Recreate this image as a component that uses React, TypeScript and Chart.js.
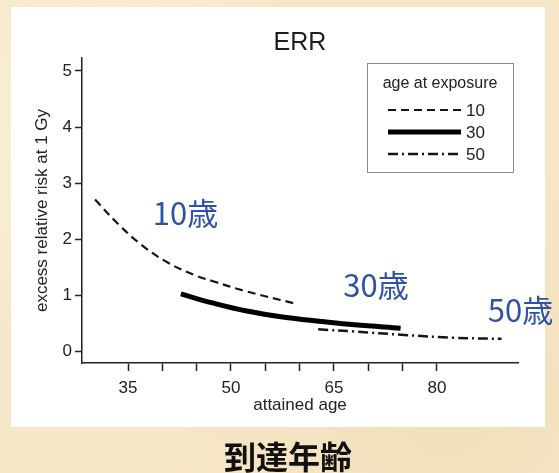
import { useEffect, useRef } from "react";
import { Chart, registerables } from "chart.js";

Chart.register(...registerables);

// ---- data ----
const ages10 = [30.2, 33.6, 37.0, 40.9, 44.8, 47.4, 52.1, 59.6];
const err10 = [2.71, 2.27, 1.9, 1.58, 1.36, 1.255, 1.08, 0.85];
const ages30 = [42.7, 47.3, 52.1, 57.5, 63.2, 68.0, 74.7];
const err30 = [1.03, 0.87, 0.73, 0.62, 0.54, 0.48, 0.42];
const ages50 = [62.7, 68.0, 75.2, 82.4, 89.4];
const err50 = [0.4, 0.36, 0.3, 0.25, 0.23];

const seriesLabels = ["10", "30", "50"];
const xTicks = [35, 40, 45, 50, 55, 60, 65, 70, 75, 80];
const xLabels = [35, 50, 65, 80];
const yTicks = [0, 1, 2, 3, 4, 5];

const chartTitle = "ERR";
const legendTitle = "age at exposure";
const xTitle = "attained age";
const yTitle = "excess relative risk at 1 Gy";
const bottomCaption = "到達年齢";

const annoTexts = ["10歳", "30歳", "50歳"];
const annoX = [38.6, 66.35, 87.4];
const annoY = [2.26, 0.98, 0.53];

const SANS = "'Liberation Sans', Arial, sans-serif";
const CJK = "'Noto Sans CJK JP', 'Noto Sans CJK SC', sans-serif";

const toPoints = (xs: number[], ys: number[]) => xs.map((x, i) => ({ x, y: ys[i] }));

const overlayPlugin = {
  id: "overlay",
  afterDraw(chart: any) {
    const ctx: CanvasRenderingContext2D = chart.ctx;
    const { x, y } = chart.scales;
    const area = chart.chartArea;
    ctx.save();

    // title
    ctx.fillStyle = "#1e1e1e";
    ctx.font = `25px ${SANS}`;
    ctx.textAlign = "center";
    ctx.textBaseline = "alphabetic";
    ctx.fillText(chartTitle, (area.left + area.right) / 2, 50);

    // legend box
    ctx.strokeStyle = "#8a8a8a";
    ctx.lineWidth = 1;
    ctx.strokeRect(367.5, 63.5, 146, 109);
    ctx.fillStyle = "#222";
    ctx.font = `16px ${SANS}`;
    ctx.fillText(legendTitle, 440, 88);

    chart.data.datasets.forEach((ds: any, i: number) => {
      const ly = 110 + i * 22;
      ctx.beginPath();
      ctx.setLineDash(ds.borderDash || []);
      ctx.lineWidth = ds.borderWidth;
      ctx.strokeStyle = ds.borderColor;
      ctx.moveTo(388, ly);
      ctx.lineTo(461, ly);
      ctx.stroke();
      ctx.setLineDash([]);
      ctx.fillStyle = "#1e1e1e";
      ctx.font = `17px ${SANS}`;
      ctx.textAlign = "left";
      ctx.textBaseline = "middle";
      ctx.fillText(ds.label, 466, ly + 1);
    });

    // blue annotations
    ctx.font = `31px ${CJK}`;
    ctx.fillStyle = "#2d53a6";
    ctx.textAlign = "left";
    ctx.textBaseline = "alphabetic";
    annoTexts.forEach((t, i) => {
      ctx.fillText(t, x.getPixelForValue(annoX[i]), y.getPixelForValue(annoY[i]));
    });

    // bottom caption
    ctx.font = `bold 32px ${CJK}`;
    ctx.fillStyle = "#111";
    ctx.textAlign = "center";
    ctx.textBaseline = "middle";
    ctx.fillText(bottomCaption, 288, 457);

    ctx.restore();
  },
};

export default function App() {
  const ref = useRef<HTMLCanvasElement | null>(null);

  useEffect(() => {
    if (!ref.current) return;
    const chart = new Chart(ref.current, {
      type: "line",
      data: {
        datasets: [
          {
            label: seriesLabels[0],
            data: toPoints(ages10, err10),
            borderColor: "#151515",
            borderWidth: 2.2,
            borderDash: [8, 5],
            pointRadius: 0,
            tension: 0.4,
            fill: false,
          },
          {
            label: seriesLabels[1],
            data: toPoints(ages30, err30),
            borderColor: "#000",
            borderWidth: 5,
            pointRadius: 0,
            tension: 0.4,
            fill: false,
          },
          {
            label: seriesLabels[2],
            data: toPoints(ages50, err50),
            borderColor: "#151515",
            borderWidth: 2.5,
            borderDash: [10, 4, 2, 4],
            pointRadius: 0,
            tension: 0.4,
            fill: false,
          },
        ],
      },
      options: {
        animation: false,
        responsive: false,
        layout: { padding: { left: 31.8, right: 41, top: 58, bottom: 57.8 } },
        plugins: {
          legend: { display: false },
          tooltip: { enabled: false },
          title: { display: false },
        },
        scales: {
          x: {
            type: "linear",
            min: 28.3,
            max: 91.8,
            afterBuildTicks: (s: any) => {
              s.ticks = xTicks.map((v) => ({ value: v }));
            },
            afterFit: (s: any) => {
              s.height = 52.2;
            },
            grid: {
              drawOnChartArea: false,
              drawTicks: true,
              tickLength: 8,
              tickWidth: 1.5,
              tickColor: "#222",
            },
            border: { display: true, color: "#222", width: 1.5 },
            ticks: {
              autoSkip: false,
              maxRotation: 0,
              padding: 7,
              color: "#222",
              font: { size: 17, family: SANS },
              callback: (v: any) => (xLabels.includes(Number(v)) ? String(v) : ""),
            },
            title: {
              display: true,
              text: xTitle,
              color: "#222",
              font: { size: 17, family: SANS },
              padding: 0,
            },
          },
          y: {
            type: "linear",
            min: -0.2,
            max: 5.23,
            afterBuildTicks: (s: any) => {
              s.ticks = yTicks.map((v) => ({ value: v }));
            },
            afterFit: (s: any) => {
              s.width = 50.2;
            },
            grid: {
              drawOnChartArea: false,
              drawTicks: true,
              tickLength: 7,
              tickWidth: 1.5,
              tickColor: "#222",
            },
            border: { display: true, color: "#222", width: 1.5 },
            ticks: {
              padding: 3,
              color: "#222",
              font: { size: 17, family: SANS },
            },
            title: {
              display: true,
              text: yTitle,
              color: "#222",
              font: { size: 17, family: SANS },
              padding: 0,
            },
          },
        },
      },
      plugins: [overlayPlugin],
    } as any);
    return () => chart.destroy();
  }, []);

  return (
    <div
      style={{
        position: "absolute",
        left: 0,
        top: 0,
        width: 559,
        height: 473,
        background:
          "radial-gradient(circle at 20% 30%, rgba(255,250,235,0.6), rgba(255,250,235,0) 40%), radial-gradient(circle at 80% 85%, rgba(235,215,170,0.5), rgba(235,215,170,0) 45%), #f6e7c8",
        overflow: "hidden",
      }}
    >
      <div
        style={{
          position: "absolute",
          left: 11,
          top: 7,
          width: 534,
          height: 420,
          background: "#ffffff",
        }}
      />
      <canvas
        ref={ref}
        width={559}
        height={473}
        style={{ position: "absolute", left: 0, top: 0, width: 559, height: 473 }}
      />
    </div>
  );
}
